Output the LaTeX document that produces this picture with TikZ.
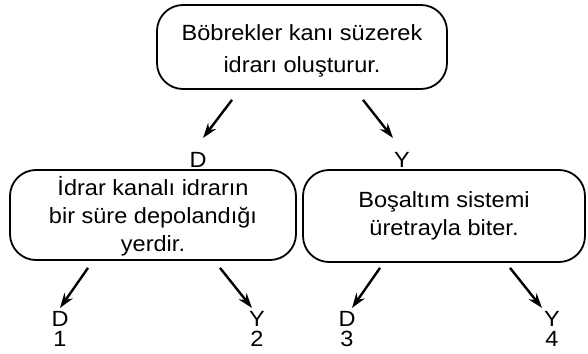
\documentclass[tikz,border=0pt]{standalone}
\usepackage{fontspec}
\setmainfont[FakeStretch=1.07]{Liberation Sans}
\usetikzlibrary{arrows.meta}
\begin{document}
\begin{tikzpicture}[x=1pt, y=-1pt, line width=1.8pt,
  main node/.style={draw, rounded corners=26pt, align=center, font=\fontsize{22}{28}\selectfont, inner sep=0pt},
  leaf/.style={align=center, font=\fontsize{22}{20}\selectfont, inner sep=0pt},
  arr/.style={-{Stealth[length=15pt, width=10pt]}, line width=2.4pt}]
\useasboundingbox (0,0) rectangle (588,353);
\begin{scope}
\node[main node, minimum width=290pt, minimum height=84pt, font=\fontsize{22}{32}\selectfont] (top) at (302,47) {\rule{0pt}{24pt}Böbrekler kanı süzerek\\idrarı oluşturur.};%kök
\node[main node, minimum width=286pt, minimum height=90pt] (left) at (153,215) {\rule{0pt}{22pt}İdrar kanalı idrarın\\bir süre depolandığı\\yerdir.};%D
\node[main node, minimum width=282pt, minimum height=92pt] (right) at (444,216) {Boşaltım sistemi\\üretrayla biter.};%Y
\end{scope}
\begin{scope}[every node/.style={leaf}]
\node (d0) at (198,160) {D};
\node (y0) at (402,160) {Y};
\node (d1) at (60,329) {D\\1};
\node (y2) at (257,329) {Y\\2};
\node (d3) at (347,329) {D\\3};
\node (y4) at (552,329) {Y\\4};
\end{scope}
\begin{scope}[every path/.style={arr}]
\draw ([xshift=-70pt, yshift=-10pt]top.south) -- ([shift={(5pt,22pt)}]d0.center);
\draw ([xshift=61pt, yshift=-10pt]top.south) -- ([shift={(-9pt,22pt)}]y0.center);
\draw ([xshift=-65pt, yshift=-7pt]left.south) -- ([shift={(0pt,21pt)}]d1.center);
\draw ([xshift=67pt, yshift=-7pt]left.south) -- ([shift={(-5pt,21pt)}]y2.center);
\draw ([xshift=-64pt, yshift=-5pt]right.south) -- ([shift={(5pt,21pt)}]d3.center);
\draw ([xshift=66pt, yshift=-5pt]right.south) -- ([shift={(-10pt,21pt)}]y4.center);
\end{scope}
\end{tikzpicture}
\end{document}
